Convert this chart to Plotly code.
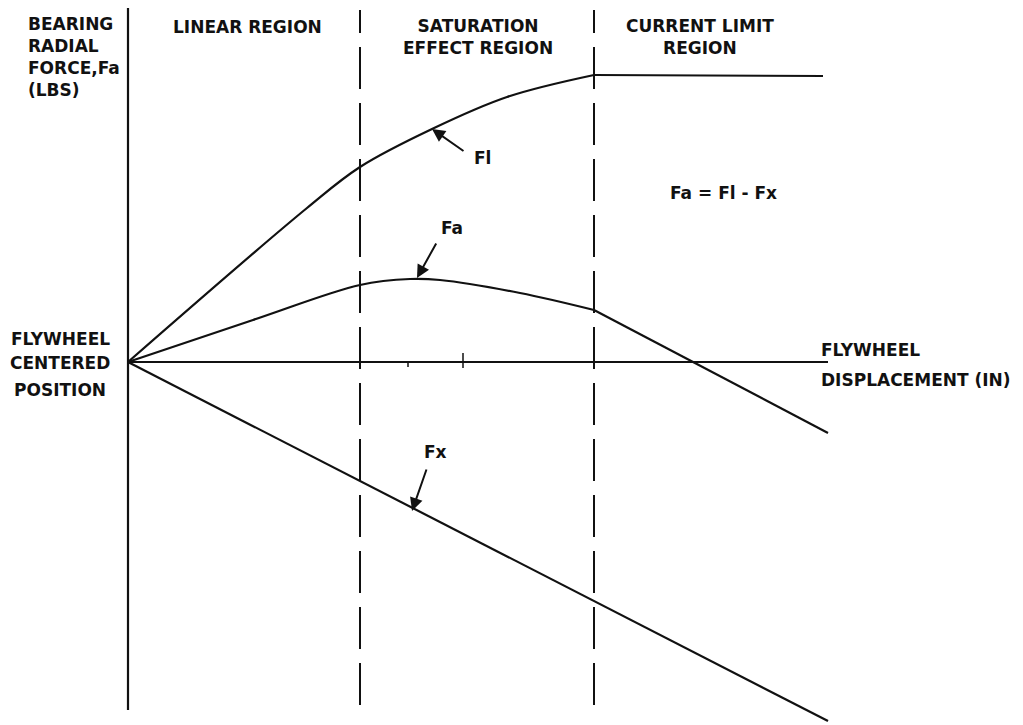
import plotly.graph_objects as go

# Schematic units: x = flywheel displacement, y = bearing radial force (origin = centered position)
fl_x = [0, 179, 232, 304, 379, 466]
fl_y = [0, 154, 195, 233, 265, 287]
fl_limit_x = [466, 695]
fl_limit_y = [287, 286]
fa_x = [0, 125, 232, 282, 312, 392, 466]
fa_y = [0, 42, 77, 83, 82, 69, 52]
fa_tail_x = [466, 700]
fa_tail_y = [52, -71]
fx_x = [0, 700]
fx_y = [0, -359]

force_axis_y = [-348, 354]
disp_axis_x = [0, 700]
region_bounds = [232, 466]
region_dash_y = [-343, 352]
axis_ticks_x = [280, 335]

region_labels = ["LINEAR REGION", "SATURATION<br>EFFECT REGION", "CURRENT LIMIT<br>REGION"]
region_label_x = [119, 350, 572]
region_label_y = [335, 325, 325]

curve_labels = ["Fl", "Fa", "Fx"]
curve_tip_x = [304, 289, 284]
curve_tip_y = [233, 84, -149]
curve_tail_x = [337, 309, 299]
curve_tail_y = [210, 120, -106]
curve_label_x = [354, 324, 307]
curve_label_y = [204, 134, -90]

INK = "#111111"
FONT = dict(family="DejaVu Sans", size=17, color=INK, weight="bold")
LW = 2.2

fig = go.Figure()

def line(x, y, shape="linear", dash="solid", w=LW):
    fig.add_trace(go.Scatter(x=x, y=y, mode="lines", showlegend=False, hoverinfo="skip",
                             line=dict(color=INK, width=w, shape=shape, dash=dash, smoothing=1.0),
                             cliponaxis=False))

# axes
line([0, 0], force_axis_y)
line(disp_axis_x, [0, 0])
# region boundaries
for bx in region_bounds:
    line([bx, bx], region_dash_y, dash="42px,14px", w=2)
# curves
line(fl_x, fl_y, shape="spline")
line(fl_limit_x, fl_limit_y)
line(fa_x, fa_y, shape="spline")
line(fa_tail_x, fa_tail_y)
line(fx_x, fx_y)

# small ticks on displacement axis
fig.add_shape(type="line", x0=axis_ticks_x[0], x1=axis_ticks_x[0], y0=-5, y1=0,
              line=dict(color=INK, width=1.5))
fig.add_shape(type="line", x0=axis_ticks_x[1], x1=axis_ticks_x[1], y0=-6, y1=9,
              line=dict(color=INK, width=1.5))

ann = []
for t, x, y in zip(region_labels, region_label_x, region_label_y):
    ann.append(dict(x=x, y=y, text=t, showarrow=False, xanchor="center", yanchor="middle",
                    align="center", font=FONT))

ann.append(dict(x=-102, y=305.5, text="BEARING<br>RADIAL<br>FORCE,Fa<br>(LBS)", showarrow=False,
                xanchor="left", yanchor="middle", align="left", font=FONT))

for t, y in zip(["FLYWHEEL", "CENTERED", "POSITION"], [23, -1, -28]):
    ann.append(dict(x=-68, y=y, text=t, showarrow=False, xanchor="center", yanchor="middle", font=FONT))

for t, y in zip(["FLYWHEEL", "DISPLACEMENT (IN)"], [12, -18]):
    ann.append(dict(x=691, y=y, text=t, showarrow=False, xanchor="left", yanchor="middle", font=FONT))

ann.append(dict(x=595, y=169, text="Fa = Fl - Fx", showarrow=False, xanchor="center",
                yanchor="middle", font=FONT))

for t, tx, ty, ax, ay, lx, ly in zip(curve_labels, curve_tip_x, curve_tip_y, curve_tail_x,
                                      curve_tail_y, curve_label_x, curve_label_y):
    ann.append(dict(x=tx, y=ty, ax=ax, ay=ay, axref="x", ayref="y", text="", showarrow=True,
                    arrowhead=2, arrowsize=1.3, arrowwidth=2, arrowcolor=INK, standoff=0))
    ann.append(dict(x=lx, y=ly, text=t, showarrow=False, xanchor="center", yanchor="middle",
                    font=FONT))

# page body has an 8px margin, so the figure covers pixels 8..1023 x 8..725
fig.update_layout(
    width=1015, height=717,
    margin=dict(l=0, r=0, t=0, b=0),
    paper_bgcolor="white", plot_bgcolor="white",
    xaxis=dict(range=[-120, 895], visible=False, fixedrange=True),
    yaxis=dict(range=[-363, 354], visible=False, fixedrange=True),
    annotations=ann,
    showlegend=False,
)

fig.write_html("out.html", config={"displayModeBar": False})
